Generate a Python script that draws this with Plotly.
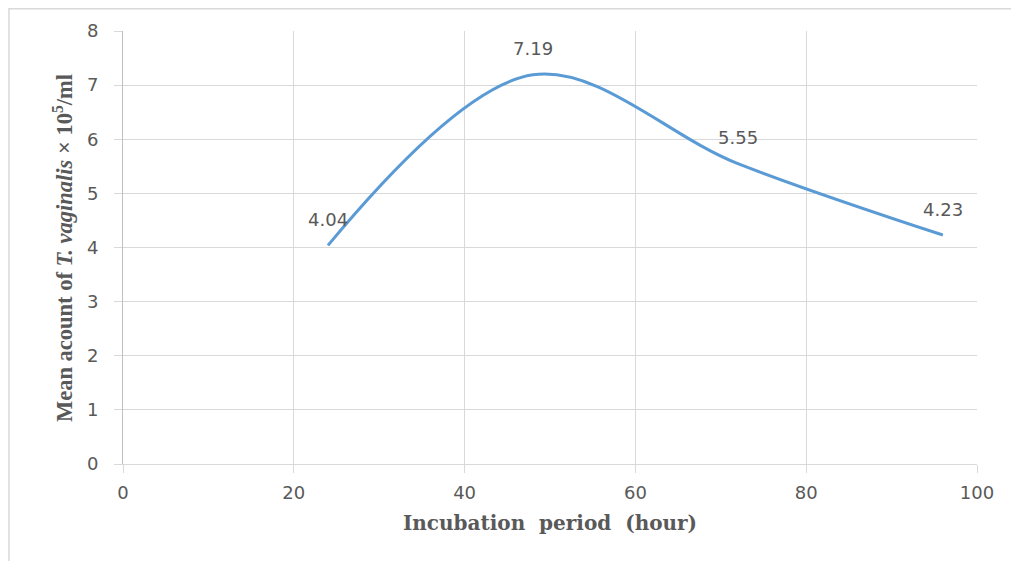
import plotly.graph_objects as go

hours = [24, 48, 72, 96]
counts = [4.04, 7.19, 5.55, 4.23]
labels = ["4.04", "7.19", "5.55", "4.23"]
x_ticks = [0, 20, 40, 60, 80, 100]
y_ticks = [0, 1, 2, 3, 4, 5, 6, 7, 8]

# page has an 8px body margin; figure coordinates are page coordinates - 8
OFF = 8
W, H = 1019 - OFF, 561 - OFF
L, T = 123 - OFF, 31 - OFF
R = W - (977 - OFF)
B = H - (464 - OFF)
pw, ph = W - L - R, H - T - B

def px2x(p):
    return (p - OFF - L) / pw

def py2y(p):
    return (H - B - (p - OFF)) / ph

fig = go.Figure()
fig.add_trace(go.Scatter(
    x=hours, y=counts, mode="lines",
    line=dict(color="#5b9bd5", width=3, shape="spline", smoothing=1.0),
    showlegend=False,
))

for xv, yv, lab in zip(hours, counts, labels):
    fig.add_annotation(x=xv, y=yv, text=lab, showarrow=False, yshift=26,
                       font=dict(family="DejaVu Sans", size=18, color="#595959"))

fig.add_annotation(xref="paper", yref="paper", x=px2x(63), y=py2y(248),
                   text="Mean acount of <i>T. vaginalis</i> × 10<sup>5</sup>/ml",
                   textangle=-90, showarrow=False, xanchor="center", yanchor="middle",
                   font=dict(family="Liberation Serif", size=22.5, color="#595959", weight="bold"))

fig.add_shape(type="rect", xref="paper", yref="paper",
              x0=px2x(9), x1=px2x(1030), y0=py2y(580), y1=py2y(8.7),
              line=dict(color="#d9d9d9", width=1.5), layer="below")

fig.update_layout(
    width=W, height=H,
    margin=dict(l=L, r=R, t=T, b=B),
    plot_bgcolor="white", paper_bgcolor="white",
    xaxis=dict(
        range=[0, 100], tickvals=x_ticks, showgrid=True, gridcolor="#d9d9d9",
        gridwidth=1, zeroline=False, showline=True, linecolor="#d9d9d9",
        ticks="outside", ticklen=8, tickcolor="#d9d9d9", ticklabelstandoff=4,
        tickfont=dict(family="DejaVu Sans", size=18, color="#595959"),
        title=dict(text="Incubation  period  (hour)", standoff=14,
                   font=dict(family="DejaVu Serif", size=20, color="#595959", weight="bold")),
    ),
    yaxis=dict(
        range=[0, 8], tickvals=y_ticks, showgrid=True, gridcolor="#d9d9d9",
        gridwidth=1, zeroline=False, showline=True, linecolor="#bfbfbf",
        ticks="outside", ticklen=8, tickcolor="#d9d9d9", ticklabelstandoff=12,
        tickfont=dict(family="DejaVu Sans", size=18, color="#595959"),
    ),
)

fig.write_html("out.html")
